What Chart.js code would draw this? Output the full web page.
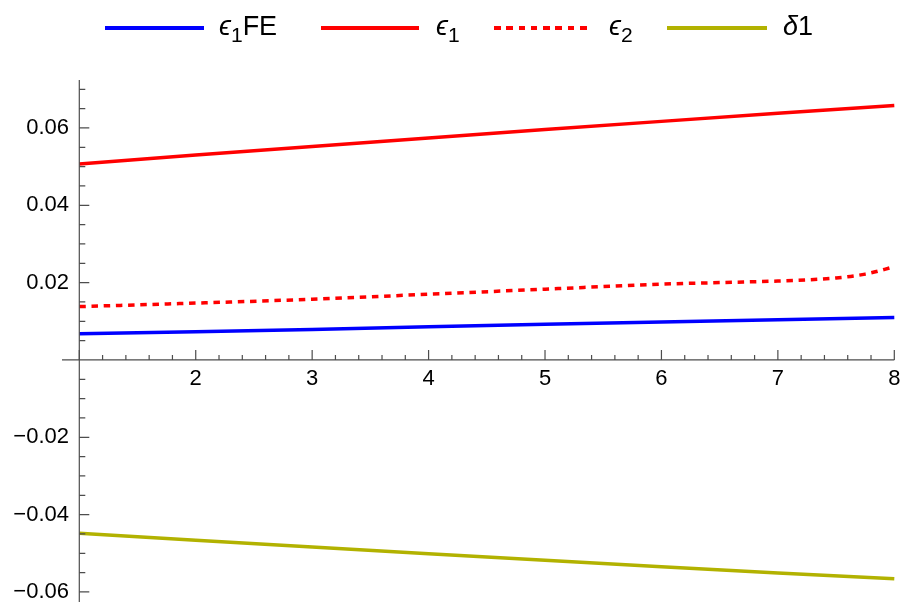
<!DOCTYPE html>
<html>
<head>
<meta charset="utf-8">
<script src="https://cdn.jsdelivr.net/npm/chart.js@4"></script>
<style>
  html, body { margin: 0; padding: 0; background: #fff; }
  #wrap { position: relative; width: 904px; height: 602px; }
  #legend { position: absolute; left: 0; top: 0; width: 904px; height: 60px;
    font-family: "Liberation Sans", Arial, sans-serif; font-size: 27px; color: #000; }
  .swatch { position: absolute; top: 26px; height: 4px; }
  .lbl { position: absolute; top: 11px; line-height: 30px; white-space: nowrap; }
  .lbl i { font-style: italic; }
  .lbl sub { font-size: 78%; vertical-align: -0.32em; line-height: 0; }
</style>
</head>
<body>
<div id="wrap">
  <canvas id="chart" width="904" height="602"></canvas>
  <div id="legend"></div>
</div>
<script>
/* ── data ── */
const xLine   = [1, 2, 3, 4, 5, 6, 7, 8];
const eps1FE  = [0.0068, 0.0073, 0.0079, 0.0086, 0.0092, 0.0098, 0.0104, 0.0110];
const eps1    = [0.0507, 0.0530, 0.0552, 0.0574, 0.0596, 0.0617, 0.0638, 0.0658];
const delta1  = [-0.0448, -0.0466, -0.0484, -0.0501, -0.0518, -0.0535, -0.0551, -0.0566];

const xEps2   = [1, 2, 3, 4, 5, 6, 6.5, 7, 7.25, 7.5, 7.75, 8];
const eps2    = [0.0138, 0.0147, 0.0157, 0.0170, 0.0183, 0.0196, 0.0200, 0.0204, 0.0207, 0.0212, 0.0222, 0.0241];

const xTicks  = [2, 3, 4, 5, 6, 7, 8];
const yTicks  = [0.06, 0.04, 0.02, -0.02, -0.04, -0.06];
const yTickLabels = ['0.06', '0.04', '0.02', '\u22120.02', '\u22120.04', '\u22120.06'];

const legendItems = [
  { html: '<i>\u03f5</i><sub>1</sub>FE', color: '#0000ff', dash: false, sx: 105, sw: 99, tx: 219 },
  { html: '<i>\u03f5</i><sub>1</sub>',   color: '#ff0000', dash: false, sx: 321, sw: 98, tx: 436 },
  { html: '<i>\u03f5</i><sub>2</sub>',   color: '#ff0000', dash: true,  sx: 494, sw: 94, tx: 609 },
  { html: '<i>\u03b4</i>1',              color: '#b2b200', dash: false, sx: 667, sw: 100, tx: 783 },
];

const pts = (xs, ys) => xs.map((x, i) => ({ x, y: ys[i] }));

/* ── HTML legend ── */
document.getElementById('legend').innerHTML = legendItems.map(it => {
  const bg = it.dash
    ? `repeating-linear-gradient(to right, ${it.color} 0 6.5px, transparent 6.5px 12.3px)`
    : it.color;
  return `<span class="swatch" style="left:${it.sx}px;width:${it.sw}px;background:${bg}"></span>` +
         `<span class="lbl" style="left:${it.tx}px">${it.html}</span>`;
}).join('');

/* ── Mathematica-style axes: inward ticks, axis through y=0 ── */
const axesPlugin = {
  id: 'axes',
  afterDatasetsDraw(chart) {
    const { ctx, chartArea: a, scales: { x, y } } = chart;
    const x0 = x.getPixelForValue(1);
    const y0 = y.getPixelForValue(0);
    ctx.save();
    ctx.strokeStyle = '#4d4d4d';
    ctx.lineWidth = 1.2;

    // axis lines
    ctx.beginPath();
    ctx.moveTo(62, y0); ctx.lineTo(a.right, y0);
    ctx.moveTo(x0, a.top); ctx.lineTo(x0, a.bottom);
    ctx.stroke();

    // x ticks (major 1, minor 0.2)
    ctx.beginPath();
    for (let k = 5; k <= 40; k++) {
      const v = k / 5;
      const px = x.getPixelForValue(v);
      const len = k % 5 === 0 ? 10 : 5;
      ctx.moveTo(px, y0); ctx.lineTo(px, y0 - len);
    }
    // y ticks (major 0.02, minor 0.005)
    for (let k = -12; k <= 14; k++) {
      if (k === 0) continue;
      const v = k * 0.005;
      const py = y.getPixelForValue(v);
      if (py < a.top || py > a.bottom) continue;
      const len = k % 4 === 0 ? 10 : 6;
      ctx.moveTo(x0, py); ctx.lineTo(x0 + len, py);
    }
    ctx.stroke();

    // labels
    ctx.fillStyle = '#000';
    ctx.font = '22px "Liberation Sans", Arial, sans-serif';
    ctx.textAlign = 'center';
    ctx.textBaseline = 'middle';
    xTicks.forEach(v => ctx.fillText(String(v), x.getPixelForValue(v), y0 + 19));
    ctx.textAlign = 'right';
    yTicks.forEach((v, i) => ctx.fillText(yTickLabels[i], 69, y.getPixelForValue(v)));
    ctx.restore();
  }
};

const common = { pointRadius: 0, borderWidth: 3.5, fill: false, tension: 0, clip: false };

new Chart(document.getElementById('chart'), {
  type: 'line',
  data: {
    datasets: [
      { ...common, label: 'eps1FE', data: pts(xLine, eps1FE), borderColor: '#0000ff' },
      { ...common, label: 'eps1',   data: pts(xLine, eps1),   borderColor: '#ff0000' },
      { ...common, label: 'eps2',   data: pts(xEps2, eps2),   borderColor: '#ff0000',
        borderDash: [6.5, 5.7], cubicInterpolationMode: 'monotone' },
      { ...common, label: 'delta1', data: pts(xLine, delta1), borderColor: '#b2b200' },
    ]
  },
  options: {
    responsive: false,
    animation: false,
    events: [],
    layout: { padding: { left: 79.3, right: 9.7, top: 80, bottom: 0 } },
    plugins: { legend: { display: false }, tooltip: { enabled: false } },
    scales: {
      x: { type: 'linear', min: 1, max: 8, display: false },
      y: { type: 'linear', min: -0.0626, max: 0.0724, display: false }
    }
  },
  plugins: [axesPlugin]
});
</script>
</body>
</html>
